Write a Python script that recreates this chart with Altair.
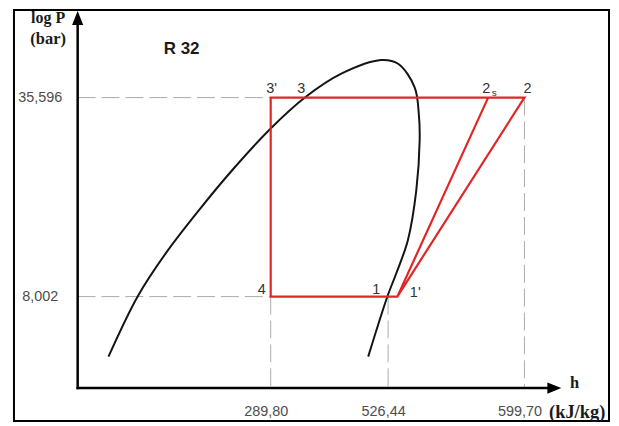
import altair as alt
import pandas as pd

# ---- values --------------------------------------------------------------
h_ticks = [289.80, 526.44, 599.70]          # enthalpy tick labels, kJ/kg
p_ticks = [8.002, 35.596]                   # pressure tick labels, bar

# saturation dome of R 32 (liquid branch -> critical region -> vapour branch)
dome_h = [106.7, 139.6, 171.5, 208.9, 246.3, 289.5, 359.4, 432.2, 512.4,
          531.8, 540.7, 543.0, 543.4, 541.6, 537.1, 530.9, 525.0, 486.3]
dome_p = [5.10, 8.01, 11.09, 15.31, 20.64, 28.18, 35.68, 42.58, 47.17,
          45.88, 38.45, 31.12, 25.83, 17.78, 12.24, 9.55, 8.01, 5.10]

# cycle state points
state_names = ["1", "1'", "2s", "2", "3", "3'", "4"]
state_h = [526.44, 531.4, 580.2, 599.70, 359.4, 289.80, 289.80]
state_p = [8.002, 8.002, 35.596, 35.596, 35.596, 35.596, 8.002]

cycle_path = ["2s", "1'", "4", "3'", "2", "1'"]

# axis origin and arrow-head centres (in h / P units)
h_origin, p_origin = 71.9, 4.028
h_arrow, p_arrow = 615.8, 64.68

# ---- tables ----------------------------------------------------------------
dome_df = pd.DataFrame({"h": dome_h, "p": dome_p, "i": range(len(dome_h))})
states_df = pd.DataFrame({"name": state_names, "h": state_h, "p": state_p})
pos = {n: (h, p) for n, h, p in zip(state_names, state_h, state_p)}
cycle_df = pd.DataFrame({
    "h": [pos[n][0] for n in cycle_path],
    "p": [pos[n][1] for n in cycle_path],
    "i": range(len(cycle_path)),
})
guides_df = pd.DataFrame({
    "h1": [h_origin, h_origin, h_ticks[0], h_ticks[1], h_ticks[2]],
    "h2": [h_ticks[0], h_ticks[0], h_ticks[0], h_ticks[1], h_ticks[2]],
    "p1": [p_ticks[1], p_ticks[0], p_ticks[0], p_ticks[0], p_ticks[1]],
    "p2": [p_ticks[1], p_ticks[0], p_origin, p_origin, p_origin],
})
axes_df = pd.DataFrame({
    "h1": [h_origin, h_origin], "h2": [h_origin, h_arrow],
    "p1": [p_origin, p_origin], "p2": [p_arrow, p_origin],
})
arrow_up_df = pd.DataFrame({"h": [h_origin], "p": [p_arrow]})
arrow_right_df = pd.DataFrame({"h": [h_arrow], "p": [p_origin]})
one = pd.DataFrame({"k": [0]})

# ---- scales ----------------------------------------------------------------
x_scale = alt.Scale(domain=[0, 289.80, 526.44, 599.70, 645.2],
                    range=[0, 258, 376, 513, 598], nice=False, zero=False)
y_scale = alt.Scale(type="log", domain=[3.148, 68.645], nice=False)

SANS = "Liberation Sans"
SERIF = "Liberation Serif"
RED = "#e02626"

x_axis = alt.Axis(values=h_ticks, title=None, ticks=False, domain=False, grid=False,
                  labelExpr="replace(format(datum.value, '.2f'), '.', ',')",
                  offset=-33, labelPadding=23, labelBaseline="middle",
                  labelAlign="center", labelOffset=-5, labelFont=SANS,
                  labelFontSize=14.5, labelColor="#4d4d4d",
                  labelFlush=False, labelOverlap=False)
y_axis = alt.Axis(values=p_ticks, title=None, ticks=False, domain=False, grid=False,
                  labelExpr="replace(format(datum.value, '.3f'), '.', ',')",
                  offset=-64, labelPadding=38, labelBaseline="middle",
                  labelAlign="center", labelFont=SANS,
                  labelFontSize=14.5, labelColor="#4d4d4d",
                  labelFlush=False, labelOverlap=False)


def X(f):
    return alt.X(f, type="quantitative", scale=x_scale, axis=x_axis)


def Y(f):
    return alt.Y(f, type="quantitative", scale=y_scale, axis=y_axis)


guides = alt.Chart(guides_df).mark_rule(
    color="#ababab", strokeWidth=1, strokeDash=[18, 6]
).encode(x=X("h1"), x2="h2", y=Y("p1"), y2="p2")

dome = alt.Chart(dome_df).mark_line(
    interpolate="catmull-rom", color="#141414", strokeWidth=2
).encode(x=X("h"), y=Y("p"), order="i:Q")

cycle = alt.Chart(cycle_df).mark_line(
    color=RED, strokeWidth=2.2, strokeJoin="miter"
).encode(x=X("h"), y=Y("p"), order="i:Q")

axes = alt.Chart(axes_df).mark_rule(
    color="black", strokeWidth=2.5, strokeCap="square"
).encode(x=X("h1"), x2="h2", y=Y("p1"), y2="p2")

arrow_up = alt.Chart(arrow_up_df).mark_point(
    shape="M0,-1L-0.8,1L0.8,1Z", filled=True, size=196, color="black", opacity=1
).encode(x=X("h"), y=Y("p"))
arrow_right = alt.Chart(arrow_right_df).mark_point(
    shape="M1,0L-1,-0.8L-1,0.8Z", filled=True, size=196, color="black", opacity=1
).encode(x=X("h"), y=Y("p"))


def state_label(name, text, dx, dy, size=14.5):
    return alt.Chart(states_df).transform_filter(
        alt.datum.name == name
    ).mark_text(text=text, dx=dx, dy=dy, font=SANS, fontSize=size,
                color="#333333", baseline="middle", align="center"
    ).encode(x=X("h"), y=Y("p"))


labels = [
    state_label("3'", "3'", 1, -9),
    state_label("3", "3", -4, -9),
    state_label("2s", "2", -2, -9),
    state_label("2s", "s", 6, -5, 10),
    state_label("2", "2", 3, -9),
    state_label("4", "4", -9, -7),
    state_label("1", "1", -12, -7),
    state_label("1'", "1'", 18, -4),
]


def note(text, x, y, font, size, baseline="middle", weight="bold"):
    return alt.Chart(one).mark_text(
        text=text, font=font, fontSize=size, fontWeight=weight,
        color="#1a1a1a", baseline=baseline, align="center"
    ).encode(x=alt.value(x), y=alt.value(y))


notes = [
    note("R 32", 168.5, 38.7, SANS, 17),
    note("log P", 34.3, 13, SERIF, 16, baseline="alphabetic"),
    note("(bar)", 34.3, 34.5, SERIF, 16.5, baseline="alphabetic"),
    note("h", 563.5, 380, SERIF, 16.5, baseline="alphabetic"),
    note("(kJ/kg)", 566, 410, SERIF, 18.5, baseline="alphabetic"),
]

chart = alt.layer(
    guides, dome, cycle, axes, arrow_up, arrow_right, *labels, *notes
).properties(
    width=598, height=413,
    padding={"left": 6, "top": 1, "right": 2, "bottom": 2},
    autosize=alt.AutoSizeParams(type="none"),
).configure_view(stroke="black", strokeWidth=2)

chart.save("out.html", embed_options={"renderer": "svg", "actions": False})
